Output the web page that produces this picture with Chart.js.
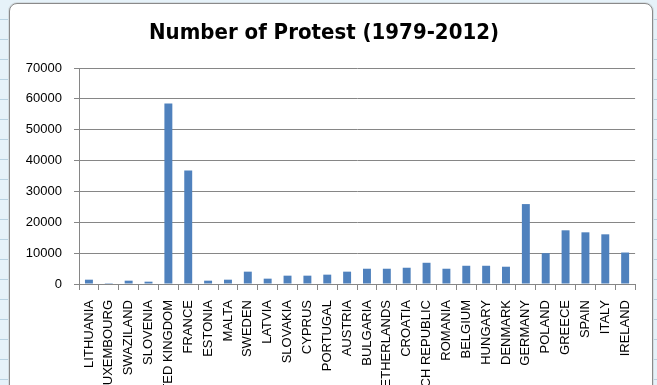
<!DOCTYPE html>
<html>
<head>
<meta charset="utf-8">
<script src="https://cdn.jsdelivr.net/npm/chart.js@4"></script>
<style>
  html, body {
    margin: 0;
    width: 657px;
    height: 385px;
    overflow: hidden;
    background-color: #e6f2f9;
    background-image: repeating-linear-gradient(to bottom, transparent 0 19px, #b9d3e2 19px 20px);
  }
  .frame {
    position: absolute;
    left: 9px;
    top: 3px;
    width: 642px;
    height: 480px;
    background: #fff;
    border: 1px solid #8a8a8a;
    border-radius: 8px;
    box-shadow: 0 0 0 1px #d4dde2;
  }
  .frame canvas {
    position: absolute;
    left: 1px;
    top: 0;
  }
</style>
</head>
<body>
<div class="frame">
  <canvas id="chart_protest" width="640" height="440"></canvas>
</div>
<script>
// ====== данные ======
const countries = ['LITHUANIA', 'LUXEMBOURG', 'SWAZILAND', 'SLOVENIA', 'UNITED KINGDOM', 'FRANCE',
    'ESTONIA', 'MALTA', 'SWEDEN', 'LATVIA', 'SLOVAKIA', 'CYPRUS', 'PORTUGAL', 'AUSTRIA',
    'BULGARIA', 'NETHERLANDS', 'CROATIA', 'CZECH REPUBLIC', 'ROMANIA', 'BELGIUM', 'HUNGARY',
    'DENMARK', 'GERMANY', 'POLAND', 'GREECE', 'SPAIN', 'ITALY', 'IRELAND'];
const protests = [1400, 40, 1080, 750, 58500, 36800,
    1080, 1400, 4000, 1730, 2700, 2700, 3030, 4000,
    4950, 4950, 5270, 6880, 4950, 5910, 5910,
    5600, 25900, 10000, 17400, 16750, 16100, 10200];
const yTicks = [0, 10000, 20000, 30000, 40000, 50000, 60000, 70000];

const gridGray = '#868686';
const tickFont = { family: "'Liberation Sans', Arial, sans-serif", size: 13 };

new Chart(document.querySelector('#chart_protest'), {
    type: 'bar',
    data: {
        labels: countries,
        datasets: [{
            data: protests,
            backgroundColor: '#4f81bd',
            borderWidth: 0,
            barPercentage: 0.4,
            categoryPercentage: 1,
        }]
    },
    options: {
        responsive: false,
        animation: false,
        layout: { padding: { left: 0, right: 14, top: 0, bottom: 0 } },
        scales: {
            x: {
                offset: true,
                grid: {
                    offset: true,
                    drawOnChartArea: false,
                    drawTicks: true,
                    tickLength: 6,
                    color: gridGray,
                },
                border: { color: gridGray },
                ticks: {
                    autoSkip: false,
                    minRotation: 90,
                    maxRotation: 90,
                    padding: 10,
                    color: '#000',
                    font: tickFont,
                },
                afterFit: s => { s.height = 160; },
            },
            y: {
                min: 0,
                max: 70000,
                afterBuildTicks: s => { s.ticks = yTicks.map(v => ({ value: v })); },
                grid: { color: gridGray, tickLength: 5 },
                border: { color: gridGray },
                ticks: {
                    padding: 12,
                    color: '#000',
                    font: tickFont,
                    callback: v => String(v),
                },
                afterFit: s => { s.width = 68; },
            }
        },
        plugins: {
            legend: { display: false },
            tooltip: { enabled: false },
            title: {
                display: true,
                text: 'Number of Protest (1979-2012)',
                color: '#000',
                font: { family: "'Liberation Sans Narrow', 'DejaVu Sans Condensed', Arial, sans-serif", size: 22, weight: 'bold', lineHeight: 1.2 },
                padding: { top: 16, bottom: 21.6 },
            },
        }
    }
});
</script>
</body>
</html>
